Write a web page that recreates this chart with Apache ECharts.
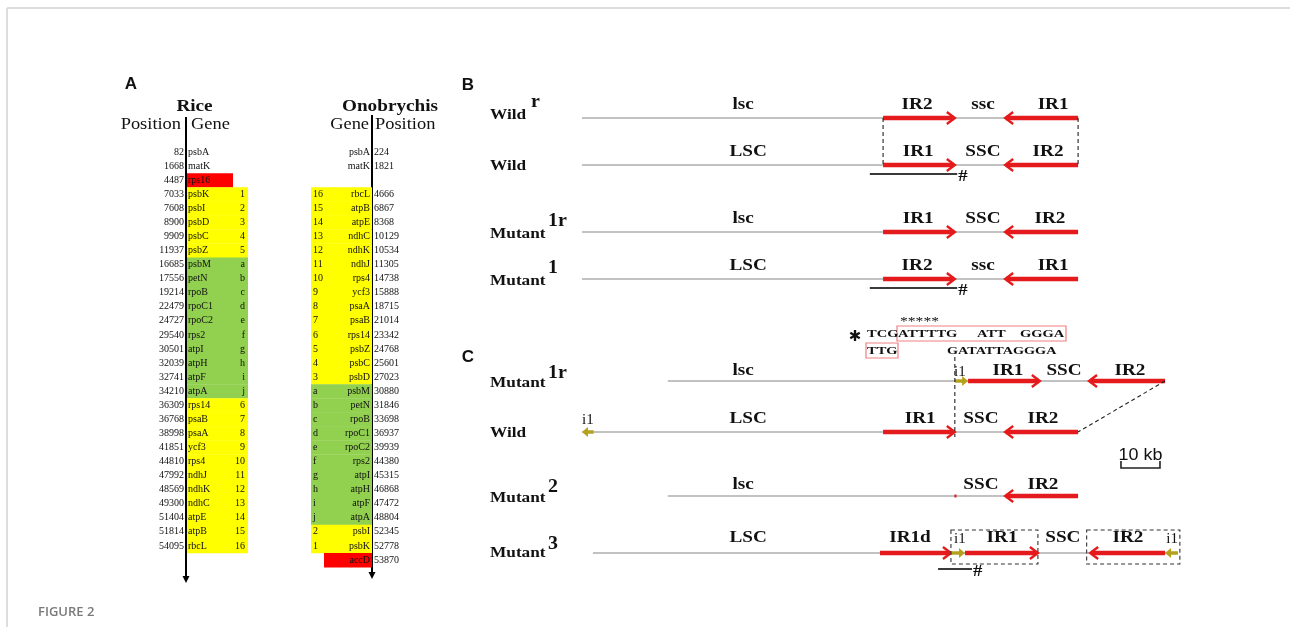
<!DOCTYPE html>
<html><head><meta charset="utf-8">
<script src="https://cdn.jsdelivr.net/npm/echarts@6/dist/echarts.min.js"></script>
<style>html,body{margin:0;padding:0;background:#fff}#c{width:1290px;height:627px}</style>
</head><body><div id="c"></div><script>
// ---------------- Panel A data ----------------
const riceGenes = ['psbA','matK','rps16','psbK','psbI','psbD','psbC','psbZ','psbM','petN','rpoB','rpoC1','rpoC2','rps2','atpI','atpH','atpF','atpA','rps14','psaB','psaA','ycf3','rps4','ndhJ','ndhK','ndhC','atpE','atpB','rbcL'];
const ricePositions = [82,1668,4487,7033,7608,8900,9909,11937,16685,17556,19214,22479,24727,29540,30501,32039,32741,34210,36309,36768,38998,41851,44810,47992,48569,49300,51404,51814,54095];
const riceTags = ['','','','1','2','3','4','5','a','b','c','d','e','f','g','h','i','j','6','7','8','9','10','11','12','13','14','15','16'];
const riceGroups = ['none','none','red','yellow','yellow','yellow','yellow','yellow','green','green','green','green','green','green','green','green','green','green','yellow','yellow','yellow','yellow','yellow','yellow','yellow','yellow','yellow','yellow','yellow'];

const onoGenes = ['psbA','matK',null,'rbcL','atpB','atpE','ndhC','ndhK','ndhJ','rps4','ycf3','psaA','psaB','rps14','psbZ','psbC','psbD','psbM','petN','rpoB','rpoC1','rpoC2','rps2','atpI','atpH','atpF','atpA','psbI','psbK','accD'];
const onoPositions = [224,1821,null,4666,6867,8368,10129,10534,11305,14738,15888,18715,21014,23342,24768,25601,27023,30880,31846,33698,36937,39939,44380,45315,46868,47472,48804,52345,52778,53870];
const onoTags = ['','','','16','15','14','13','12','11','10','9','8','7','6','5','4','3','a','b','c','d','e','f','g','h','i','j','2','1',''];
const onoGroups = ['none','none','none','yellow','yellow','yellow','yellow','yellow','yellow','yellow','yellow','yellow','yellow','yellow','yellow','yellow','yellow','green','green','green','green','green','green','green','green','green','green','yellow','yellow','red'];

// ---------------- Panels B / C data (kb) ----------------
const trackNames = ['Wild','Wild','Mutant','Mutant','Mutant','Wild','Mutant','Mutant'];
const trackSups  = ['r','','1r','1','1r','','2','3'];
const trackSpans = [[0,127.2],[0,127.2],[0,127.2],[0,127.2],[22,149.5],[0,127.2],[22,127.2],[2.8,152.8]];
// [startKb, endKb, kind, label, labelKb]  kind: R/L red IR arrow, iR/iL i1 arrow, T text only, D dot
const trackFeatures = [
  [[0,77.2,'T','lsc',41.3],[77.2,95.6,'R','IR2',85.9],[95.6,108.5,'T','ssc',102.8],[108.5,127.2,'L','IR1',120.8]],
  [[0,77.2,'T','LSC',42.6],[77.2,95.6,'R','IR1',86.2],[95.6,108.5,'T','SSC',102.8],[108.5,127.2,'L','IR2',119.5]],
  [[0,77.2,'T','lsc',41.3],[77.2,95.6,'R','IR1',86.2],[95.6,108.5,'T','SSC',102.8],[108.5,127.2,'L','IR2',120.0]],
  [[0,77.2,'T','LSC',42.6],[77.2,95.6,'R','IR2',85.9],[95.6,108.5,'T','ssc',102.8],[108.5,127.2,'L','IR1',120.8]],
  [[22,95.6,'T','lsc',41.3],[95.6,99,'iR','i1',96.9],[99,117.4,'R','IR1',109.2],[117.4,130,'T','SSC',123.6],[130,149.5,'L','IR2',140.5]],
  [[0,3,'iL','i1',1.5],[3,77.2,'T','LSC',42.6],[77.2,95.6,'R','IR1',86.7],[95.6,108.5,'T','SSC',102.3],[108.5,127.2,'L','IR2',118.2]],
  [[22,95.6,'T','lsc',41.3],[95.5,95.9,'D','',95.7],[95.6,108.5,'T','SSC',102.3],[108.5,127.2,'L','IR2',118.2]],
  [[2.8,76.4,'T','LSC',42.6],[76.4,94.6,'R','IR1d',84.1],[94.6,98.2,'iR','i1',96.9],[98.2,116.9,'R','IR1',107.7],[116.9,130.3,'T','SSC',123.3],[130.3,149.5,'L','IR2',140.0],[149.5,152.8,'iL','i1',151.3]]
];
// dashed links [kbFrom, trackFrom, kbTo, trackTo]
const dashedLinks = [[77.2,0,77.2,1],[127.2,0,127.2,1],[95.6,4,95.6,5],[149.5,4,127.2,5]];
// underline + '#': [startKb, endKb, track]
const hashMarks = [[73.8,96.2,1],[73.8,96.2,3],[91.3,100.0,7]];
// dashed boxes [startKb, endKb, track]
const dashedBoxes = [[94.6,116.9,7],[129.4,153.3,7]];
const scaleBarKb = [138.2, 148.2];
const scaleBarLabel = '10 kb';

// ---------------- layout ----------------
const SERIF = '"Liberation Serif","Times New Roman",serif';
const SANS = '"Liberation Sans",Arial,sans-serif';
const COL = {yellow:'#ffff00', green:'#92d050', red:'#ff0000'};
const RED = '#e41a1c', OLIVE = '#b5a21c', GRAYLINE = '#c2c2c2';
const RICE = {axisX:186, bandX:187, bandW:61, redW:46};
const ONO = {axisX:372, bandX:311, bandW:61, redX:324};
const TRACK_Y = [118,165,232,279,381,432,496,553];
const LABEL_DY = [-13,-13,-13,-13,-10,-13,-11,-15];
const NAME_DY = [-3,1,2,2,2,1,2,0];
const SUP_DY = [-16,0,-11,-11,-8,0,-9,-9];
const HASH_DY = [9,9,16];
const LINK_PAD = [[0,0],[0,0],[-24,5],[0,0]];
const F10 = '10px ' + SERIF;

function T(x, y, text, font, align, o) {
  o = o || {};
  return {type:'text', x:x, y:y, scaleX:o.sx || 1, silent:true,
    style:{text:text, font:font, fill:o.fill || '#111', align:align || 'left', verticalAlign:o.va || 'middle'}};
}
function L(x1,y1,x2,y2,stroke,w,dash){
  return {type:'line', silent:true, shape:{x1:x1,y1:y1,x2:x2,y2:y2}, style:{stroke:stroke, lineWidth:w, lineDash:dash || null}};
}

function riceRender(params, api) {
  const i = params.dataIndex;
  const y = api.coord([0, i])[1];
  const h = api.size([0, 1])[1];
  const ch = [];
  const g = riceGroups[i];
  if (g !== 'none') ch.push({type:'rect', silent:true, shape:{x:RICE.bandX, y:y - h/2, width: g === 'red' ? RICE.redW : RICE.bandW, height:h + 0.4}, style:{fill:COL[g]}});
  ch.push(T(RICE.axisX - 2, y, String(ricePositions[i]), F10, 'right'));
  ch.push(T(RICE.axisX + 2, y, riceGenes[i], F10, 'left'));
  if (riceTags[i]) ch.push(T(RICE.bandX + RICE.bandW - 3, y, riceTags[i], F10, 'right'));
  return {type:'group', children:ch};
}
function onoRender(params, api) {
  const i = params.dataIndex;
  if (onoGenes[i] == null) return {type:'group', children:[]};
  const y = api.coord([0, i])[1];
  const h = api.size([0, 1])[1];
  const ch = [];
  const g = onoGroups[i];
  if (g !== 'none') {
    const x0 = g === 'red' ? ONO.redX : ONO.bandX;
    ch.push({type:'rect', silent:true, shape:{x:x0, y:y - h/2, width:ONO.axisX - x0, height:h + 0.4}, style:{fill:COL[g]}});
  }
  ch.push(T(ONO.axisX - 2, y, onoGenes[i], F10, 'right'));
  ch.push(T(ONO.axisX + 2, y, String(onoPositions[i]), F10, 'left'));
  if (onoTags[i]) ch.push(T(ONO.bandX + 2, y, onoTags[i], F10, 'left'));
  return {type:'group', children:ch};
}

function redArrow(xa, xb, y, dir) {
  const hl = 8, hh = 6, ch = [];
  if (dir === 'R') {
    ch.push(L(xa, y, xb - 1, y, RED, 4.5));
    ch.push({type:'polyline', silent:true, shape:{points:[[xb - hl, y - hh],[xb, y],[xb - hl, y + hh]]}, style:{stroke:RED, lineWidth:2.4, fill:null}});
  } else {
    ch.push(L(xa + 1, y, xb, y, RED, 4.5));
    ch.push({type:'polyline', silent:true, shape:{points:[[xa + hl, y - hh],[xa, y],[xa + hl, y + hh]]}, style:{stroke:RED, lineWidth:2.4, fill:null}});
  }
  return ch;
}
function oliveArrow(xa, xb, y, dir) {
  const ch = [];
  if (dir === 'iR') {
    ch.push(L(xa, y, xb - 4, y, OLIVE, 3.5));
    ch.push({type:'polygon', silent:true, shape:{points:[[xb - 6, y - 5],[xb, y],[xb - 6, y + 5]]}, style:{fill:OLIVE}});
  } else {
    ch.push(L(xa + 4, y, xb, y, OLIVE, 3.5));
    ch.push({type:'polygon', silent:true, shape:{points:[[xa + 6, y - 5],[xa, y],[xa + 6, y + 5]]}, style:{fill:OLIVE}});
  }
  return ch;
}

function trackRender(params, api) {
  const i = params.dataIndex;
  const yv = TRACK_Y[i];
  const X = kb => api.coord([kb, yv])[0];
  const y = api.coord([0, yv])[1];
  let ch = [];
  ch.push(L(X(trackSpans[i][0]), y, X(trackSpans[i][1]), y, GRAYLINE, 2));
  // row label
  const nameFont = 'bold 15px ' + SERIF;
  ch.push(T(490, y + NAME_DY[i], trackNames[i], nameFont, 'left', {sx:1.15}));
  if (trackSups[i]) {
    const sx = trackNames[i] === 'Wild' ? 531 : 548;
    ch.push(T(sx, y + SUP_DY[i], trackSups[i], 'bold 19px ' + SERIF, 'left', {sx:1.05}));
  }
  trackFeatures[i].forEach(f => {
    const xa = X(f[0]), xb = X(f[1]);
    if (f[2] === 'R' || f[2] === 'L') ch = ch.concat(redArrow(xa, xb, y, f[2]));
    else if (f[2] === 'iR' || f[2] === 'iL') ch = ch.concat(oliveArrow(xa, xb, y, f[2]));
    else if (f[2] === 'D') ch.push({type:'rect', silent:true, shape:{x:xa, y:y - 1.5, width:2, height:3}, style:{fill:RED}});
    if (f[3]) {
      const isI = f[3] === 'i1';
      const font = isI ? '15px ' + SERIF : 'bold 16px ' + SERIF;
      ch.push(T(X(f[4]), y + LABEL_DY[i] + (isI ? 1 : 0), f[3], font, 'center', {sx: isI ? 1.0 : 1.2}));
    }
  });
  return {type:'group', children:ch};
}

function extrasRender(params, api) {
  const Y = t => api.coord([0, TRACK_Y[t]])[1];
  const X = kb => api.coord([kb, 0])[0];
  const ch = [];
  dashedLinks.forEach((d, k) => {
    ch.push(L(X(d[0]), Y(d[1]) + LINK_PAD[k][0], X(d[2]), Y(d[3]) + LINK_PAD[k][1], '#222', 1.1, [4, 3]));
  });
  hashMarks.forEach((h, k) => {
    const y = Y(h[2]) + HASH_DY[k];
    ch.push(L(X(h[0]), y, X(h[1]), y, '#3a3a3a', 2));
    ch.push(T(X(h[1]) + 1, y + 3, '#', 'bold 17px ' + SERIF, 'left', {sx:1.1}));
  });
  dashedBoxes.forEach(b => {
    const y = Y(b[2]);
    ch.push({type:'rect', silent:true, shape:{x:X(b[0]), y:y - 23, width:X(b[1]) - X(b[0]), height:34}, style:{stroke:'#333', lineWidth:1.1, lineDash:[4, 3], fill:null}});
  });
  // scale bar
  const sx0 = X(scaleBarKb[0]), sx1 = X(scaleBarKb[1]), sy = 468;
  ch.push({type:'polyline', silent:true, shape:{points:[[sx0, sy - 7],[sx0, sy],[sx1, sy],[sx1, sy - 7]]}, style:{stroke:'#222', lineWidth:1.6, fill:null}});
  ch.push(T((sx0 + sx1) / 2, 456, scaleBarLabel, '16px ' + SANS, 'center', {sx:1.12}));
  return {type:'group', children:ch};
}

// ---------------- static annotations ----------------
const graphics = [
  L(7, 8, 1290, 8, '#d2d2d2', 1.5),
  L(7, 8, 7, 627, '#d2d2d2', 1.5),
  T(38, 612, 'FIGURE 2', '600 13px "Open Sans",' + SANS, 'left', {fill:'#7a7a7a'}),
  T(131, 84, 'A', 'bold 17px ' + SANS, 'center'),
  T(468, 85, 'B', 'bold 17px ' + SANS, 'center'),
  T(468, 357, 'C', 'bold 17px ' + SANS, 'center'),
  T(194.5, 107, 'Rice', 'bold 16px ' + SERIF, 'center', {sx:1.2}),
  T(181, 125, 'Position', '16px ' + SERIF, 'right', {sx:1.15}),
  T(191, 125, 'Gene', '16px ' + SERIF, 'left', {sx:1.15}),
  T(390, 107, 'Onobrychis', 'bold 16px ' + SERIF, 'center', {sx:1.2}),
  T(369, 125, 'Gene', '16px ' + SERIF, 'right', {sx:1.15}),
  T(375, 125, 'Position', '16px ' + SERIF, 'left', {sx:1.15}),
  L(186, 117, 186, 577, '#000', 2),
  {type:'polygon', silent:true, shape:{points:[[182.5, 576],[189.5, 576],[186, 583]]}, style:{fill:'#000'}},
  L(372, 115, 372, 573, '#000', 2),
  {type:'polygon', silent:true, shape:{points:[[368.5, 572],[375.5, 572],[372, 579]]}, style:{fill:'#000'}},
  // sequence annotation
  T(855, 337, '\u2731', 'bold 15px "DejaVu Sans"', 'center'),
  T(900, 322, '*****', '12px ' + SERIF, 'left', {sx:1.3}),
  {type:'rect', silent:true, shape:{x:897, y:326, width:169, height:15}, style:{stroke:'#f08080', lineWidth:1.2, fill:null}},
  {type:'rect', silent:true, shape:{x:866, y:343, width:32, height:15}, style:{stroke:'#f08080', lineWidth:1.2, fill:null}},
  T(867, 334, 'TCG', 'bold 10px ' + SERIF, 'left', {sx:1.45}),
  T(898, 334, 'ATTTTG', 'bold 10px ' + SERIF, 'left', {sx:1.45}),
  T(977, 334, 'ATT', 'bold 10px ' + SERIF, 'left', {sx:1.45}),
  T(1020, 334, 'GGGA', 'bold 10px ' + SERIF, 'left', {sx:1.45}),
  T(867, 351, 'TTG', 'bold 10px ' + SERIF, 'left', {sx:1.45}),
  T(947, 351, 'GATATTAGGGA', 'bold 10px ' + SERIF, 'left', {sx:1.42})
];

const chart = echarts.init(document.getElementById('c'), null, {renderer:'canvas'});
chart.setOption({
  animation:false,
  backgroundColor:'#ffffff',
  grid:[
    {left:0, top:145, width:1290, height:422},
    {left:582, top:0, width:608.4, height:627}
  ],
  xAxis:[
    {gridIndex:0, type:'value', min:0, max:1, show:false},
    {gridIndex:1, type:'value', min:0, max:156, show:false}
  ],
  yAxis:[
    {gridIndex:0, type:'category', inverse:true, data:onoGenes.map((g, i) => String(i)), show:false},
    {gridIndex:1, type:'value', min:0, max:627, inverse:true, show:false}
  ],
  graphic:{elements:graphics},
  series:[
    {type:'custom', name:'Rice', xAxisIndex:0, yAxisIndex:0, clip:false, silent:true, renderItem:riceRender,
      data:riceGenes.map((g, i) => [0, i])},
    {type:'custom', name:'Onobrychis', xAxisIndex:0, yAxisIndex:0, clip:false, silent:true, renderItem:onoRender,
      data:onoGenes.map((g, i) => [0, i])},
    {type:'custom', name:'Tracks', xAxisIndex:1, yAxisIndex:1, clip:false, silent:true, renderItem:trackRender,
      data:trackNames.map((n, i) => [trackSpans[i][0], TRACK_Y[i]])},
    {type:'custom', name:'Extras', xAxisIndex:1, yAxisIndex:1, clip:false, silent:true, renderItem:extrasRender,
      data:[[0, 0]]}
  ]
});
</script></body></html>
